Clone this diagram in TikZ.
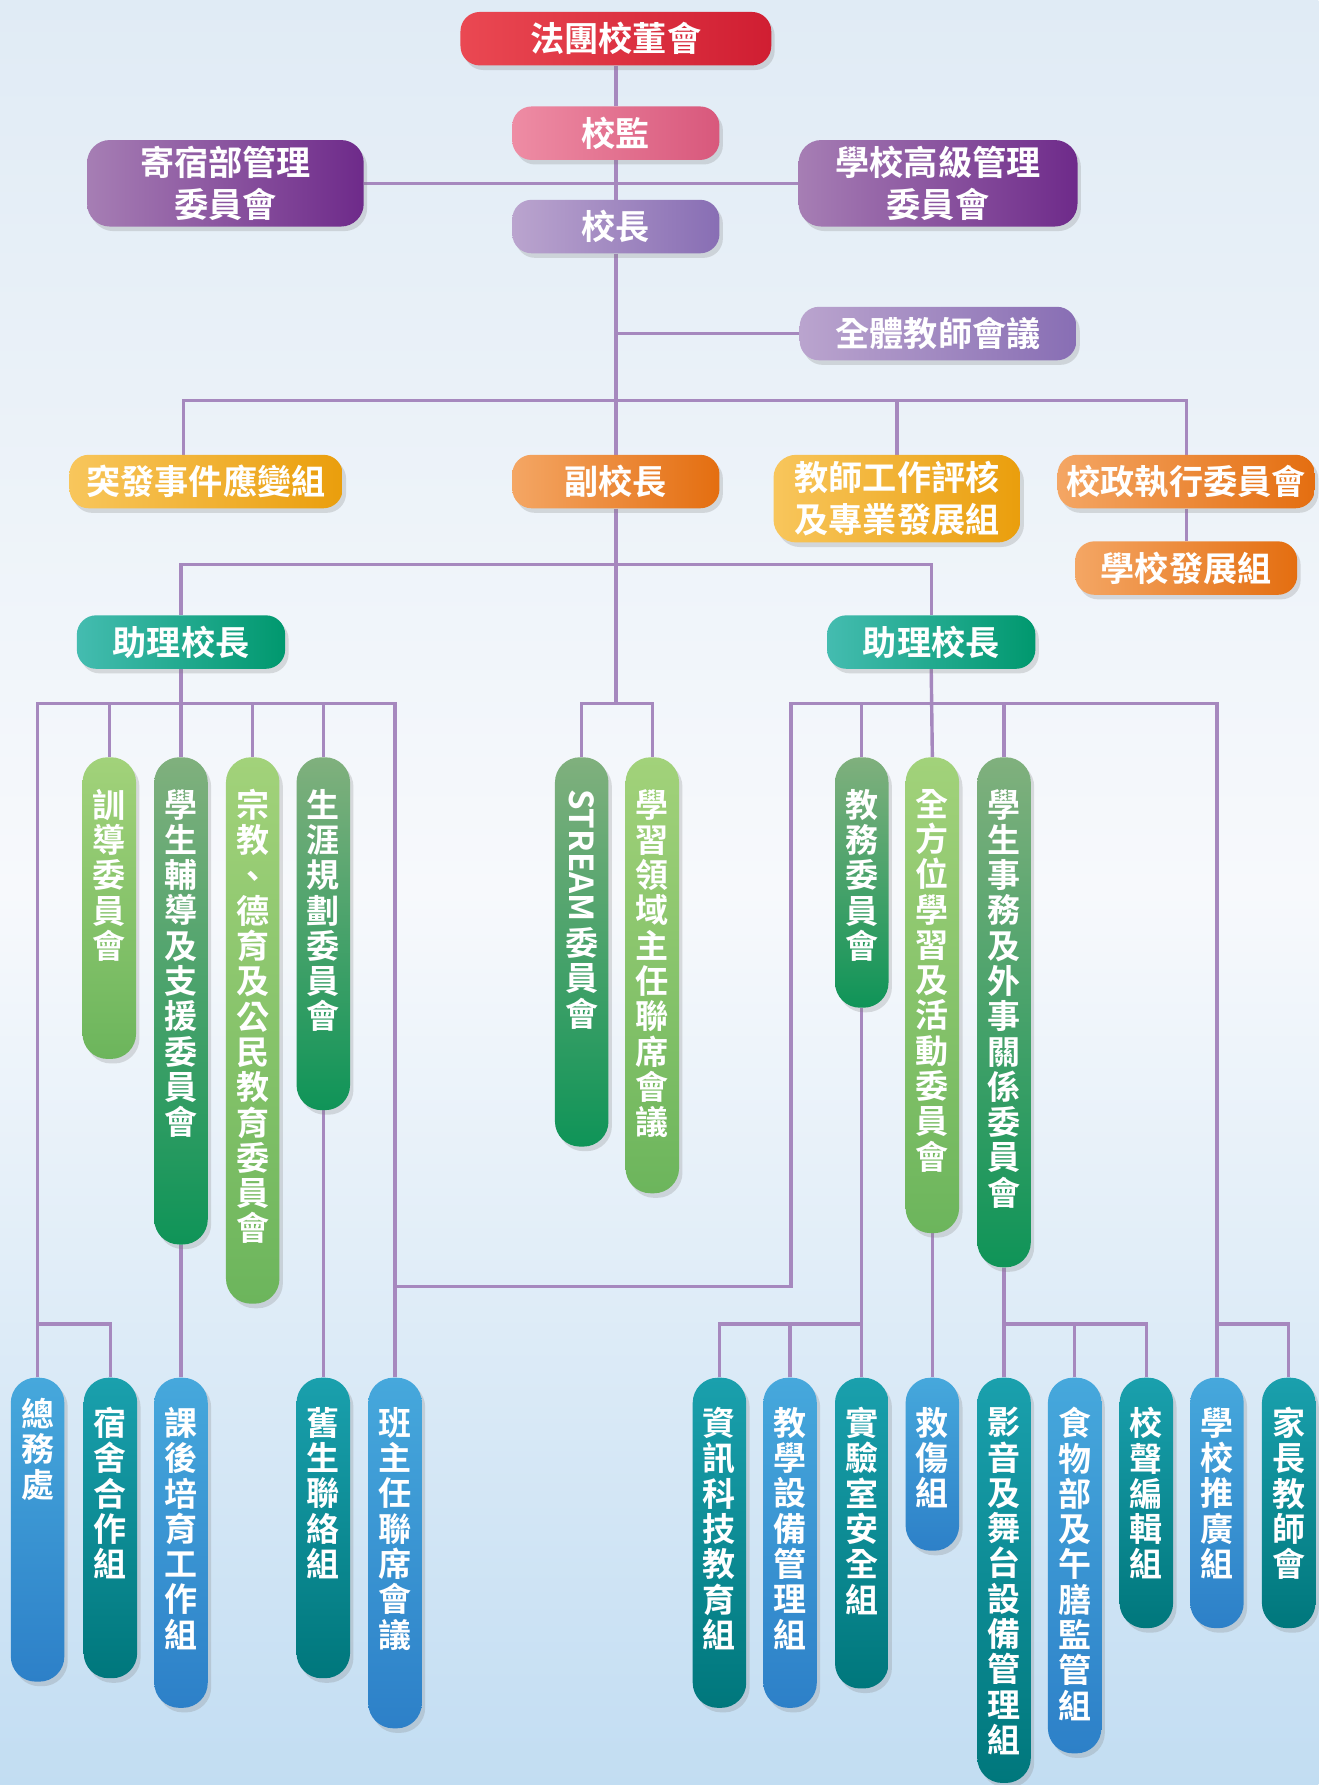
\documentclass[tikz,border=0pt]{standalone}
\usepackage{fontspec}
\newfontfamily\cjk{Noto Sans CJK TC Bold}
\usetikzlibrary{positioning,shadows,backgrounds}

\definecolor{skytop}{RGB}{224,235,245}
\definecolor{skymid}{RGB}{247,249,252}
\definecolor{skybot}{RGB}{194,221,242}
\definecolor{linkpurple}{RGB}{166,136,190}
\definecolor{boardL}{RGB}{234,72,82}
\definecolor{boardR}{RGB}{208,30,50}
\definecolor{pinkL}{RGB}{238,140,164}
\definecolor{pinkR}{RGB}{216,88,124}
\definecolor{purL}{RGB}{166,126,180}
\definecolor{purR}{RGB}{110,42,138}
\definecolor{lavL}{RGB}{186,164,206}
\definecolor{lavR}{RGB}{136,110,180}
\definecolor{yelL}{RGB}{248,198,92}
\definecolor{yelR}{RGB}{234,158,12}
\definecolor{ornL}{RGB}{244,166,100}
\definecolor{ornR}{RGB}{228,110,16}
\definecolor{tealL}{RGB}{68,188,176}
\definecolor{tealR}{RGB}{0,152,110}
\definecolor{lgT}{RGB}{162,210,122}
\definecolor{lgB}{RGB}{108,181,92}
\definecolor{dgT}{RGB}{128,176,125}
\definecolor{dgB}{RGB}{15,148,88}
\definecolor{blT}{RGB}{70,168,220}
\definecolor{blB}{RGB}{45,128,200}
\definecolor{tlT}{RGB}{26,160,173}
\definecolor{tlB}{RGB}{0,119,124}

\tikzset{
  link/.style={draw=linkpurple, line width=3pt},
  hbox/.style={rounded corners=17pt, inner sep=0pt, minimum height=47pt,
    text=white, align=center, font=\cjk\fontsize{30}{37}\selectfont,
    drop shadow={shadow xshift=3pt, shadow yshift=-4pt, opacity=.25}},
  pillar/.style={rounded corners=22pt, inner sep=0pt, minimum width=47pt,
    anchor=north, drop shadow={shadow xshift=3pt, shadow yshift=-4pt, opacity=.25}},
  ptext/.style={text=white, inner sep=0pt, align=center,
    font=\cjk\fontsize{29}{31}\selectfont},
  redbox/.style={left color=boardL, right color=boardR},
  pinkbox/.style={left color=pinkL, right color=pinkR},
  purbox/.style={left color=purL, right color=purR},
  lavbox/.style={left color=lavL, right color=lavR},
  yelbox/.style={left color=yelL, right color=yelR},
  ornbox/.style={left color=ornL, right color=ornR},
  tealbox/.style={left color=tealL, right color=tealR},
  lgreen/.style={top color=lgT, bottom color=lgB},
  dgreen/.style={top color=dgT, bottom color=dgB},
  pblue/.style={top color=blT, bottom color=blB},
  pteal/.style={top color=tlT, bottom color=tlB},
}

\begin{document}
\begin{tikzpicture}[x=1pt, y=-1pt]
\useasboundingbox (0,0) rectangle (1158,1568);
% SKY
\begin{scope}[on background layer]
\fill[top color=skytop, bottom color=skybot, middle color=skymid] (0,0) rectangle (1158,1568);
\end{scope}

% TOP LEVEL
\node[hbox, redbox, minimum width=273pt] (board) at (541,34) {法團校董會};
\node[hbox, pinkbox, minimum width=182pt] (supervisor) at (541,117) {校監};
\node[hbox, purbox, minimum width=243pt, minimum height=76pt, rounded corners=20pt] (boarding) at (198,161) {寄宿部管理\\委員會};
\node[hbox, purbox, minimum width=245pt, minimum height=76pt, rounded corners=20pt] (senior) at (824,161) {學校高級管理\\委員會};
\node[hbox, lavbox, minimum width=182pt] (principal) at (541,199) {校長};
\node[hbox, lavbox, minimum width=243pt] (teachers) at (824,293) {全體教師會議};

% SECOND ROW
\node[hbox, yelbox, minimum width=240pt] (emergency) at (181,423) {突發事件應變組};
\node[hbox, ornbox, minimum width=182pt] (vice) at (541,423) {副校長};
\node[hbox, yelbox, minimum width=217pt, minimum height=77pt, rounded corners=20pt] (appraisal) at (788,438) {教師工作評核\\及專業發展組};
\node[hbox, ornbox, minimum width=226pt] (executive) at (1042,423) {校政執行委員會};
\node[hbox, ornbox, minimum width=195pt] (development) at (1042,499) {學校發展組};

% ASSISTANT PRINCIPALS
\node[hbox, tealbox, minimum width=183pt] (apL) at (159,564) {助理校長};
\node[hbox, tealbox, minimum width=183pt] (apR) at (818,564) {助理校長};

% COMMITTEES
\node[pillar, lgreen, minimum height=265pt] (xundao) at (96,665) {};
\node[ptext, below=28pt of xundao.north] (xundao-t) {訓\\導\\委\\員\\會};
\node[pillar, dgreen, minimum height=428pt] (fudao) at (159,665) {};
\node[ptext, below=28pt of fudao.north] (fudao-t) {學\\生\\輔\\導\\及\\支\\援\\委\\員\\會};
\node[pillar, lgreen, minimum height=480pt] (zongjiao) at (222,665) {};
\node[ptext, below=28pt of zongjiao.north] (zongjiao-t) {宗\\教\\、\\德\\育\\及\\公\\民\\教\\育\\委\\員\\會};
\node[pillar, dgreen, minimum height=310pt] (shengya) at (284,665) {};
\node[ptext, below=28pt of shengya.north] (shengya-t) {生\\涯\\規\\劃\\委\\員\\會};
\node[pillar, dgreen, minimum height=342pt] (stream) at (511,665) {};
\node[ptext, below=28pt of stream.north] (stream-t) {\rotatebox{-90}{STREAM}\\[4pt]委\\員\\會};
\node[pillar, lgreen, minimum height=383pt] (lingyu) at (573,665) {};
\node[ptext, below=28pt of lingyu.north] (lingyu-t) {學\\習\\領\\域\\主\\任\\聯\\席\\會\\議};
\node[pillar, dgreen, minimum height=220pt] (jiaowu) at (757,665) {};
\node[ptext, below=28pt of jiaowu.north] (jiaowu-t) {教\\務\\委\\員\\會};
\node[pillar, lgreen, minimum height=418pt] (quanfang) at (819,665) {};
\node[ptext, below=28pt of quanfang.north] (quanfang-t) {全\\方\\位\\學\\習\\及\\活\\動\\委\\員\\會};
\node[pillar, dgreen, minimum height=448pt] (xuesheng) at (882,665) {};
\node[ptext, below=28pt of xuesheng.north] (xuesheng-t) {學\\生\\事\\務\\及\\外\\事\\關\\係\\委\\員\\會};

% GROUPS
\node[pillar, pblue, minimum height=267pt] (zongwu) at (33,1210) {};
\node[ptext, below=18pt of zongwu.north] (zongwu-t) {總\\務\\處};
\node[pillar, pteal, minimum height=264pt] (sushe) at (97,1210) {};
\node[ptext, below=26pt of sushe.north] (sushe-t) {宿\\舍\\合\\作\\組};
\node[pillar, pblue, minimum height=290pt] (kehou) at (159,1210) {};
\node[ptext, below=26pt of kehou.north] (kehou-t) {課\\後\\培\\育\\工\\作\\組};
\node[pillar, pteal, minimum height=264pt] (jiusheng) at (284,1210) {};
\node[ptext, below=26pt of jiusheng.north] (jiusheng-t) {舊\\生\\聯\\絡\\組};
\node[pillar, pblue, minimum height=308pt] (banzhuren) at (347,1210) {};
\node[ptext, below=26pt of banzhuren.north] (banzhuren-t) {班\\主\\任\\聯\\席\\會\\議};
\node[pillar, pteal, minimum height=290pt] (zixun) at (632,1210) {};
\node[ptext, below=26pt of zixun.north] (zixun-t) {資\\訊\\科\\技\\教\\育\\組};
\node[pillar, pblue, minimum height=290pt] (shebei) at (694,1210) {};
\node[ptext, below=26pt of shebei.north] (shebei-t) {教\\學\\設\\備\\管\\理\\組};
\node[pillar, pteal, minimum height=273pt] (shiyan) at (757,1210) {};
\node[ptext, below=26pt of shiyan.north] (shiyan-t) {實\\驗\\室\\安\\全\\組};
\node[pillar, pblue, minimum height=152pt] (jiushang) at (819,1210) {};
\node[ptext, below=26pt of jiushang.north] (jiushang-t) {救\\傷\\組};
\node[pillar, pteal, minimum height=356pt] (yingyin) at (882,1210) {};
\node[ptext, below=26pt of yingyin.north] (yingyin-t) {影\\音\\及\\舞\\台\\設\\備\\管\\理\\組};
\node[pillar, pblue, minimum height=330pt] (shiwu) at (944,1210) {};
\node[ptext, below=26pt of shiwu.north] (shiwu-t) {食\\物\\部\\及\\午\\膳\\監\\管\\組};
\node[pillar, pteal, minimum height=220pt] (xiaosheng) at (1007,1210) {};
\node[ptext, below=26pt of xiaosheng.north] (xiaosheng-t) {校\\聲\\編\\輯\\組};
\node[pillar, pblue, minimum height=220pt] (tuiguang) at (1069,1210) {};
\node[ptext, below=26pt of tuiguang.north] (tuiguang-t) {學\\校\\推\\廣\\組};
\node[pillar, pteal, minimum height=220pt] (jiazhang) at (1132,1210) {};
\node[ptext, below=26pt of jiazhang.north] (jiazhang-t) {家\\長\\教\\師\\會};

% LINKS
\coordinate (bar1) at (541,352);
\coordinate (bar2) at (541,496);
\coordinate (bar3) at (541,618);
\coordinate (barR) at (695,618);
\coordinate (crossing) at (695,1130);
\coordinate (low) at (0,1163);
\begin{scope}[on background layer]
\draw[link] (board.south) -- (supervisor.north);
\draw[link] (supervisor.south) -- (principal.north);
\draw[link] (boarding.east) -- (senior.west);
\draw[link] (principal.south) -- (vice.north);
\draw[link] (teachers.west) -- (teachers.west -| principal.south);
\draw[link] ([xshift=-20pt]emergency.north) |- (bar1) -| (executive.north);
\draw[link] (appraisal.north) -- (appraisal.north |- bar1);
\draw[link] (executive.south) -- (development.north);
\draw[link] (apL.north) |- (bar2) -| (apR.north);
\draw[link] (vice.south) -- (bar3);
\draw[link] (stream.north) |- (bar3) -| (lingyu.north);
% left assistant principal
\draw[link] (apL.south) -- (fudao.north);
\draw[link] (zongwu.north) |- (fudao.north |- bar3) -| (banzhuren.north);
\draw[link] (xundao.north) -- (xundao.north |- bar3);
\draw[link] (zongjiao.north) -- (zongjiao.north |- bar3);
\draw[link] (shengya.north) -- (shengya.north |- bar3);
% right assistant principal
\draw[link] (apR.south) -- (quanfang.north);
\draw[link] (tuiguang.north) |- (barR) -- (crossing) -| (banzhuren.north);
\draw[link] (jiaowu.north) -- (jiaowu.north |- barR);
\draw[link] (xuesheng.north) -- (xuesheng.north |- barR);
% groups
\draw[link] (zongwu.north |- low) -| (sushe.north);
\draw[link] (fudao.south) -- (kehou.north);
\draw[link] (shengya.south) -- (jiusheng.north);
\draw[link] (jiaowu.south) -- (shiyan.north);
\draw[link] (zixun.north) |- (shiyan.north |- low);
\draw[link] (shebei.north) -- (shebei.north |- low);
\draw[link] (quanfang.south) -- (jiushang.north);
\draw[link] (xuesheng.south) -- (yingyin.north);
\draw[link] (yingyin.north |- low) -| (xiaosheng.north);
\draw[link] (shiwu.north) -- (shiwu.north |- low);
\draw[link] (tuiguang.north |- low) -| (jiazhang.north);
\end{scope}
\end{tikzpicture}
\end{document}
